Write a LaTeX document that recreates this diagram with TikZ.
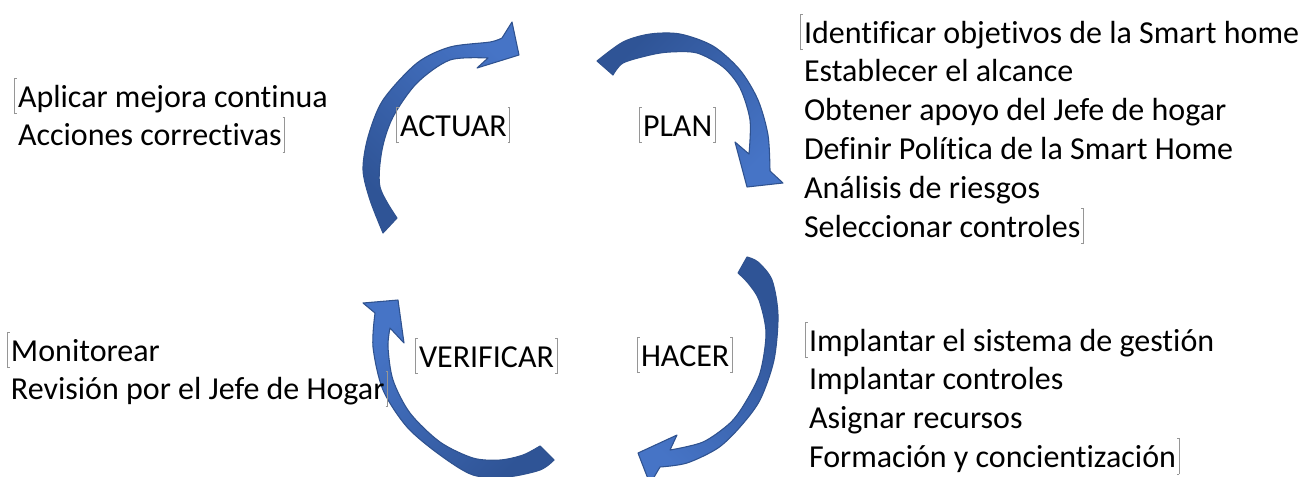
\documentclass[tikz,border=0pt]{standalone}
\usepackage{fontspec}
\setmainfont{Carlito}[Ligatures=NoCommon]
\usepackage{xcolor}

\definecolor{arrowlight}{RGB}{70,116,198}
\definecolor{arrowdark}{RGB}{47,84,150}
\definecolor{arrowedge}{RGB}{47,82,143}
\definecolor{markgray}{RGB}{150,150,150}

\newcommand{\pdcafont}{\fontsize{24}{29.1}\selectfont}
% text box edges, left of the first line and right of the last one
\newcommand{\markL}{\llap{\textcolor{markgray}{\rule[-5.25pt]{0.5pt}{27pt}\rule[21.25pt]{1.2pt}{0.5pt}\kern-1.2pt\rule[-5.25pt]{1.2pt}{0.5pt}}\kern1pt}}
\newcommand{\markR}{\rlap{\kern0.8pt\textcolor{markgray}{\rule[-5.25pt]{1.2pt}{0.5pt}\kern-1.2pt\rule[21.25pt]{1.2pt}{0.5pt}\rule[-5.25pt]{0.5pt}{27pt}}}}

\begin{document}
\begin{tikzpicture}[x=0.75pt,y=-0.75pt,
  txt/.style={inner sep=0pt,outer sep=0pt,anchor=north west,align=left,font=\pdcafont},
  cycarrow/.style={draw=arrowedge,line width=0.8pt,line join=round,top color=arrowlight,bottom color=arrowdark}]
\useasboundingbox (0,0) rectangle (1301,476);

% ACTUAR arrow, up and to the right
\shade[cycarrow,shading angle=-45]
  plot[smooth] coordinates {(383,233) (370,200) (363,170) (368,137) (383,100) (417,63) (450,47) (490,42) (502,38)}
  -- (512,22) -- (519,55) -- (477,68)
  -- plot[smooth] coordinates {(488,58) (450,60) (417,83) (393,117) (382,150) (380,187) (397,218)} -- cycle;

% PLAN arrow, over the top and down
\shade[cycarrow,shading angle=-135]
  plot[smooth] coordinates {(597,61) (623,42) (650,34) (680,34) (713,46) (740,70) (758,100) (768,135) (770,171)}
  -- (783,183) -- (747,187) -- (735,142)
  -- plot[smooth] coordinates {(749,154) (750,120) (740,88) (723,67) (697,53) (670,52) (650,55) (623,63) (613,75)} -- cycle;

% HACER arrow, down and round to the left
\shade[cycarrow,shading angle=135]
  plot[smooth] coordinates {(747,257) (758,262) (772,280) (778,315) (774,360) (760,400) (740,427) (718,448) (687,463) (660,467)}
  -- (650,484) -- (638,453) -- (677,435)
  -- plot[smooth] coordinates {(670,450) (703,442) (730,423) (745,403) (760,373) (766,333) (759,300) (748,283) (738,273)} -- cycle;

% VERIFICAR arrow, along the bottom and up
\shade[cycarrow,shading angle=45]
  plot[smooth] coordinates {(554,460) (540,470) (507,477) (473,475) (440,455) (407,427) (383,390) (373,347) (375,313)}
  -- (363,303) -- (398,300) -- (404,343)
  -- plot[smooth] coordinates {(390,328) (388,347) (393,380) (410,413) (440,442) (473,458) (500,460) (523,455) (540,446)} -- cycle;

% stage names
\node[txt] (actuar) at (400,107) {\markL ACTUAR\markR};
\node[txt] (plan) at (643,107) {\markL PLAN\markR};
\node[txt] (verificar) at (419,338) {\markL VERIFICAR\markR};
\node[txt] (hacer) at (641,337) {\markL HACER\markR};

% what is done in each stage
\node[txt] (actuartxt) at (18,78) {\markL Aplicar mejora continua\\Acciones correctivas\markR};
\node[txt] (plantxt) at (804,14) {\markL Identificar objetivos de la Smart home\\Establecer el alcance\\Obtener apoyo del Jefe de hogar\\Definir Política de la Smart Home\\Análisis de riesgos\\Seleccionar controles\markR};
\node[txt] (verificartxt) at (11,332) {\markL Monitorear\\Revisión por el Jefe de Hogar\markR};
\node[txt] (hacertxt) at (809,322) {\markL Implantar el sistema de gestión\\Implantar controles\\Asignar recursos\\Formación y concientización\markR};

\end{tikzpicture}
\end{document}
